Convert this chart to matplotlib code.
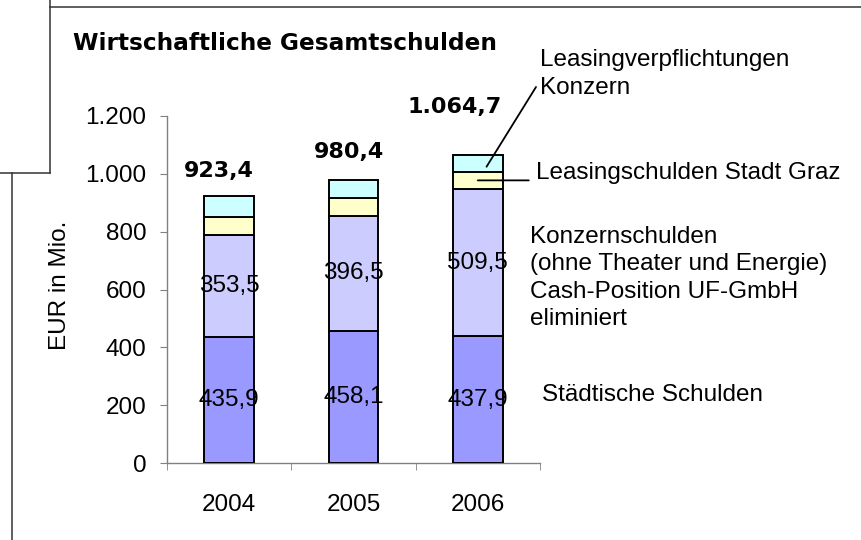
import numpy as np
from matplotlib import pyplot as plt
from matplotlib.lines import Line2D
from matplotlib.ticker import FuncFormatter, FixedLocator

# data (EUR in Mio.)
years = ["2004", "2005", "2006"]
staedtisch = [435.9, 458.1, 437.9]
konzern = [353.5, 396.5, 509.5]
leasing_graz = [63.0, 63.0, 60.0]
leasing_konzern = [71.0, 62.8, 57.3]
totals = [923.4, 980.4, 1064.7]

yticks = [0, 200, 400, 600, 800, 1000, 1200]

# layout of the total labels above each bar (x shift in categories, y gap in data units)
total_dx = [-0.08, -0.04, -0.19]
total_dy = [66, 75, 146]

def de_num(v, dec=1):
    s = f"{v:,.{dec}f}"
    return s.replace(",", "X").replace(".", ",").replace("X", ".")

font_norm = "Liberation Sans"
font_bold = "DejaVu Sans"
fs = 17.5

fig = plt.figure(figsize=(8.62, 5.40), dpi=100)
ax = fig.add_axes([167/862, 1-463/540, (540-167)/862, (463-116)/540])

x = np.arange(len(years))
w = 0.4
edge = dict(edgecolor="black", linewidth=1.4)
b1 = np.array(staedtisch)
b2 = b1 + np.array(konzern)
b3 = b2 + np.array(leasing_graz)
ax.bar(x, staedtisch, w, color="#9999FF", **edge, zorder=3)
ax.bar(x, konzern, w, bottom=b1, color="#CCCCFF", **edge, zorder=3)
ax.bar(x, leasing_graz, w, bottom=b2, color="#FFFFCC", **edge, zorder=3)
ax.bar(x, leasing_konzern, w, bottom=b3, color="#CCFFFF", **edge, zorder=3)

# value labels inside the bars
for i in range(len(years)):
    ax.text(x[i], staedtisch[i]/2, de_num(staedtisch[i]), ha="center", va="center",
            fontsize=fs, family=font_norm, zorder=5)
    ax.text(x[i], b1[i] + konzern[i]/2, de_num(konzern[i]), ha="center", va="center",
            fontsize=fs, family=font_norm, zorder=5)
    ax.text(x[i] + total_dx[i], totals[i] + total_dy[i], de_num(totals[i]), ha="center",
            va="baseline", fontsize=16, family=font_bold, fontweight="bold", zorder=5)

ax.set_xlim(-0.5, len(years) - 0.5)
ax.set_ylim(0, 1200)
ax.yaxis.set_major_locator(FixedLocator(yticks))
ax.yaxis.set_major_formatter(FuncFormatter(lambda v, p: de_num(v, 0)))
ax.set_xticks(x)
ax.set_xticklabels(years)
ax.xaxis.set_minor_locator(FixedLocator(np.arange(-0.5, len(years), 1.0)))

for s in ["top", "right"]:
    ax.spines[s].set_visible(False)
for s in ["left", "bottom"]:
    ax.spines[s].set_color("#808080")
    ax.spines[s].set_linewidth(1.0)

ax.tick_params(axis="y", length=5, color="#808080", pad=10, labelsize=fs)
ax.tick_params(axis="x", which="major", length=0, pad=22, labelsize=fs)
ax.tick_params(axis="x", which="minor", length=5, color="#808080")
for lab in ax.get_xticklabels() + ax.get_yticklabels():
    lab.set_family(font_norm)

# title and axis label
fig.text(73/862, 1-50/540, "Wirtschaftliche Gesamtschulden", fontsize=16.7,
         family=font_bold, fontweight="bold", va="baseline", ha="left")
fig.text(60/862, 1-285/540, "EUR in Mio.", rotation=90, fontsize=fs,
         family=font_norm, ha="center", va="center")

# series annotations on the right
txt = dict(fontsize=fs, family=font_norm, ha="left", va="center", linespacing=1.3)
line = dict(arrowstyle="-", color="black", lw=1.3, shrinkA=0, shrinkB=0)
p_lk = (2.07, b3[2] + leasing_konzern[2]*0.3)
p_lg = (2.0, b2[2] + leasing_graz[2]/2)
fig.text(540/862, 1-74/540, "Leasingverpflichtungen\nKonzern", **txt)
ax.annotate("", xy=p_lk, xytext=(536/862, 1-87/540), textcoords="figure fraction",
            arrowprops=line)
fig.text(536/862, 1-173/540, "Leasingschulden Stadt Graz", **txt)
ax.annotate("", xy=p_lg, xytext=(2.41, p_lg[1]), textcoords="data", arrowprops=line,
            annotation_clip=False)
fig.text(530/862, 1-278/540,
         "Konzernschulden\n(ohne Theater und Energie)\nCash-Position UF-GmbH\neliminiert", **txt)
fig.text(542/862, 1-395/540, "Städtische Schulden", **txt)

# frame lines around the slide area
fc = "#333333"
for xs, ys in [([50/862, 50/862], [1.0, 1-173/540]),
               ([0, 50/862], [1-173/540, 1-173/540]),
               ([12/862, 12/862], [1-173/540, 0]),
               ([50/862, 1.0], [1-7/540, 1-7/540])]:
    fig.add_artist(Line2D(xs, ys, color=fc, lw=1.1, transform=fig.transFigure))

fig.savefig("out.png", dpi=100)
